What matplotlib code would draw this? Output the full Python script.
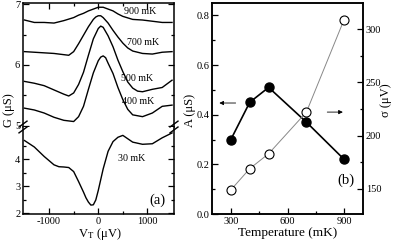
import matplotlib
matplotlib.use("Agg")
import matplotlib.pyplot as plt
from matplotlib.ticker import MultipleLocator, FixedLocator

plt.rcParams['font.family'] = ['Liberation Serif', 'DejaVu Serif']
plt.rcParams['mathtext.fontset'] = 'stix'

# ---------------- data: panel (a) ----------------
v_900 = [-1500, -1300, -1100, -900, -700, -500, -400, -300, -200, -100, 0, 100, 200, 300, 400, 500, 700, 900, 1100, 1300, 1500]
g_900 = [6.74, 6.70, 6.70, 6.69, 6.73, 6.78, 6.82, 6.85, 6.89, 6.92, 6.95, 6.95, 6.92, 6.89, 6.84, 6.80, 6.75, 6.74, 6.72, 6.70, 6.70]

v_700 = [-1500, -1300, -1100, -900, -700, -600, -500, -400, -300, -200, -100, -50, 0, 50, 100, 200, 300, 400, 500, 600, 700, 900, 1100, 1300, 1500]
g_700 = [6.22, 6.21, 6.20, 6.19, 6.17, 6.16, 6.22, 6.35, 6.49, 6.63, 6.75, 6.79, 6.81, 6.81, 6.78, 6.69, 6.57, 6.46, 6.36, 6.28, 6.23, 6.19, 6.18, 6.21, 6.22]

v_500 = [-1500, -1300, -1100, -900, -700, -600, -500, -400, -300, -200, -100, 0, 50, 100, 200, 300, 400, 500, 600, 700, 800, 900, 1100, 1300, 1500]
g_500 = [5.73, 5.70, 5.66, 5.59, 5.52, 5.49, 5.54, 5.68, 5.88, 6.16, 6.43, 6.60, 6.64, 6.62, 6.48, 6.30, 6.08, 5.89, 5.72, 5.62, 5.57, 5.56, 5.60, 5.63, 5.75]

v_400 = [-1500, -1300, -1100, -900, -700, -500, -400, -300, -200, -100, 0, 50, 100, 150, 200, 300, 400, 500, 600, 700, 900, 1100, 1300, 1500]
g_400 = [5.29, 5.26, 5.21, 5.14, 5.09, 5.07, 5.15, 5.32, 5.60, 5.87, 6.07, 6.13, 6.15, 6.12, 6.03, 5.86, 5.63, 5.43, 5.27, 5.18, 5.15, 5.21, 5.32, 5.34]

v_30 = [-1500, -1400, -1300, -1100, -900, -800, -700, -600, -500, -400, -300, -250, -200, -150, -100, -50, 0, 100, 200, 300, 400, 500, 700, 900, 1100, 1300, 1500]
g_30 = [4.70, 4.58, 4.46, 4.11, 3.80, 3.73, 3.72, 3.70, 3.55, 3.18, 2.79, 2.58, 2.42, 2.31, 2.32, 2.50, 2.85, 3.65, 4.30, 4.66, 4.82, 4.89, 4.64, 4.56, 4.58, 4.80, 4.98]

# ---------------- data: panel (b) ----------------
temps = [300, 400, 500, 700, 900]
amp_A = [0.30, 0.45, 0.51, 0.37, 0.22]
sigma = [149, 169, 183, 222, 309]

fig = plt.figure(figsize=(3.99, 2.45), dpi=100)

W, H = 399.0, 245.0
def rect(x0, y0, x1, y1):
    return [x0 / W, 1 - y1 / H, (x1 - x0) / W, (y1 - y0) / H]

ax_up = fig.add_axes(rect(23, 3, 174, 127))
ax_lo = fig.add_axes(rect(23, 127, 174, 214))
ax_b = fig.add_axes(rect(212, 3, 363, 214))
ax_s = ax_b.twinx()

lw_sp = 1.1
for ax in (ax_up, ax_lo, ax_b, ax_s):
    for s in ax.spines.values():
        s.set_linewidth(lw_sp)

ax_up.spines['bottom'].set_visible(False)
ax_lo.spines['top'].set_visible(False)

curve_kw = dict(color='black', lw=1.0)
for v, g in ((v_900, g_900), (v_700, g_700), (v_500, g_500), (v_400, g_400)):
    ax_up.plot(v, g, **curve_kw)
ax_lo.plot(v_30, g_30, **curve_kw)

xl = (-1530, 1540)
ax_up.set_xlim(*xl)
ax_lo.set_xlim(*xl)
ax_up.set_ylim(4.98, 7.02)
ax_lo.set_ylim(1.98, 5.2)

tick_fs = 7.5
for ax in (ax_up, ax_lo):
    ax.xaxis.set_major_locator(FixedLocator([-1000, 0, 1000]))
    ax.xaxis.set_minor_locator(FixedLocator([-500, 500]))
    ax.tick_params(which='both', direction='in', top=True, right=True, labelsize=tick_fs, width=0.9, pad=2)
    ax.tick_params(which='major', length=4)
    ax.tick_params(which='minor', length=2.2)

ax_up.tick_params(which='both', bottom=False, labelbottom=False)
ax_lo.tick_params(which='both', top=False)
ax_up.yaxis.set_major_locator(FixedLocator([5, 6, 7]))
ax_up.yaxis.set_minor_locator(FixedLocator([5.5, 6.5]))
ax_lo.yaxis.set_major_locator(FixedLocator([2, 3, 4]))
ax_lo.yaxis.set_minor_locator(FixedLocator([2.5, 3.5, 4.5]))
ax_lo.set_xticklabels(['-1000', '0', '1000'])

# break marks
for xf in (0.0, 1.0):
    for dy in (-0.012, 0.012):
        fig.lines.append(plt.Line2D([(23 + xf * 151 - 4) / W, (23 + xf * 151 + 4) / W],
                                    [(1 - 127 / H) + dy - 0.012, (1 - 127 / H) + dy + 0.012],
                                    color='black', lw=1.0, transform=fig.transFigure))

lab_fs = 7.2
ax_up.text(0.774, 0.935, '900 mK', transform=ax_up.transAxes, ha='center', va='center', fontsize=lab_fs)
ax_up.text(0.794, 0.685, '700 mK', transform=ax_up.transAxes, ha='center', va='center', fontsize=lab_fs)
ax_up.text(0.755, 0.395, '500 mK', transform=ax_up.transAxes, ha='center', va='center', fontsize=lab_fs)
ax_up.text(0.762, 0.205, '400 mK', transform=ax_up.transAxes, ha='center', va='center', fontsize=lab_fs)
ax_lo.text(0.722, 0.635, '30 mK', transform=ax_lo.transAxes, ha='center', va='center', fontsize=lab_fs)
ax_lo.text(0.89, 0.16, '(a)', transform=ax_lo.transAxes, ha='center', va='center', fontsize=10.5)

fig.text(9 / W, 1 - 110 / H, 'G (μS)', rotation=90, ha='center', va='center', fontsize=9)
fig.text(100 / W, 1 - 234 / H, r'V$_{\mathrm{T}}$ (μV)', ha='center', va='center', fontsize=9)

# ---------------- panel (b) ----------------
ax_s.plot(temps, sigma, '-o', color='#888888', lw=0.7, ms=6.5, mfc='white', mec='black', mew=0.8, zorder=3)
ax_b.plot(temps, amp_A, '-o', color='black', lw=1.2, ms=6.5, mfc='black', mec='black', zorder=2)
ax_s.set_zorder(ax_b.get_zorder() + 1)
ax_s.patch.set_visible(False)

ax_b.set_xlim(200, 1000)
ax_b.set_ylim(0.0, 0.85)
ax_s.set_ylim(126.4, 324.5)

ax_b.xaxis.set_major_locator(FixedLocator([300, 600, 900]))
ax_b.xaxis.set_minor_locator(FixedLocator([450, 750]))
ax_b.set_yticks([0.0, 0.2, 0.4, 0.6, 0.8])
ax_b.set_yticklabels(['0.0', '0.2', '0.4', '0.6', '0.8'])
ax_b.yaxis.set_minor_locator(MultipleLocator(0.1))
ax_s.yaxis.set_major_locator(FixedLocator([150, 200, 250, 300]))
ax_s.yaxis.set_minor_locator(FixedLocator([175, 225, 275]))

for ax in (ax_b, ax_s):
    ax.tick_params(which='both', direction='in', labelsize=tick_fs, width=0.9, pad=2)
    ax.tick_params(which='major', length=4)
    ax.tick_params(which='minor', length=2.2)

ax_b.set_xlabel('Temperature (mK)', fontsize=9.5, labelpad=1)
fig.text(190 / W, 1 - 110 / H, 'A (μS)', rotation=90, ha='center', va='center', fontsize=9)
fig.text(386 / W, 1 - 100 / H, 'σ (μV)', rotation=90, ha='center', va='center', fontsize=9)
ax_b.text(0.89, 0.16, '(b)', transform=ax_b.transAxes, ha='center', va='center', fontsize=10.5)

ax_b.annotate('', xy=(0.03, 0.526), xytext=(0.175, 0.526), xycoords='axes fraction',
              arrowprops=dict(arrowstyle='-|>', color='black', lw=0.6, mutation_scale=6))
ax_b.annotate('', xy=(0.885, 0.483), xytext=(0.745, 0.483), xycoords='axes fraction',
              arrowprops=dict(arrowstyle='-|>', color='black', lw=0.6, mutation_scale=6))

fig.savefig('out.png', dpi=100)
